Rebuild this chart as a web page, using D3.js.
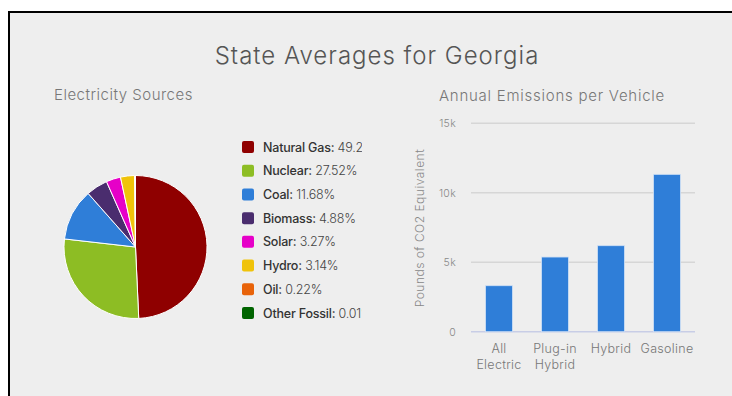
<!DOCTYPE html>
<html>
<head>
<meta charset="utf-8">
<script src="https://cdn.jsdelivr.net/npm/d3@7"></script>
<style>
body { margin:0; background:#fff; }
svg { display:block; font-family: Inter, "Open Sans", sans-serif; }
</style>
</head>
<body>
<div id="chart"></div>
<script>
// electricity mix (percent)
var sources = ["Natural Gas","Nuclear","Coal","Biomass","Solar","Hydro","Oil","Other Fossil"];
var shares = [49.28, 27.52, 11.68, 4.88, 3.27, 3.14, 0.22, 0.01];
var sourceColors = ["#8f0000","#8dbd24","#2f7ed8","#4a2d6e","#e600c8","#f0c30a","#e8630a","#006400"];

// annual emissions (lbs CO2e)
var vehicles = [["All","Electric"],["Plug-in","Hybrid"],["Hybrid"],["Gasoline"]];
var emissions = [3310, 5375, 6190, 11325];
var yTicks = [0, 5000, 10000, 15000];

var width = 732, height = 396;

var svg = d3.select("#chart").append("svg")
	.attr("width", width)
	.attr("height", height);

svg.append("rect")
	.attr("x", 9).attr("y", 12)
	.attr("width", width).attr("height", height)
	.attr("fill", "#eeeeee")
	.attr("stroke", "#000")
	.attr("stroke-width", 2);

svg.append("text")
	.attr("x", 377).attr("y", 64)
	.attr("text-anchor", "middle")
	.attr("font-size", 24)
	.attr("font-weight", 300)
	.attr("letter-spacing", 1)
	.attr("fill", "#555")
	.text("State Averages for Georgia");

svg.append("text")
	.attr("x", 54).attr("y", 100)
	.attr("font-size", 15)
	.attr("font-weight", 300)
	.attr("letter-spacing", 0.5)
	.attr("fill", "#777")
	.text("Electricity Sources");

svg.append("text")
	.attr("x", 439).attr("y", 101)
	.attr("font-size", 15)
	.attr("font-weight", 300)
	.attr("letter-spacing", 0.75)
	.attr("fill", "#777")
	.text("Annual Emissions per Vehicle");

// ---- pie ----
var pieData = sources.map((s, i) => ({name: s, value: shares[i], color: sourceColors[i]}));
var pie = d3.pie().value(d => d.value).sort(null);
var arc = d3.arc().innerRadius(0).outerRadius(71.5);

var gPie = svg.append("g").attr("transform", "translate(135.5,247)");
gPie.selectAll("path").data(pie(pieData))
	.enter().append("path")
	.attr("d", arc)
	.attr("fill", d => d.data.color)
	.attr("stroke", "#fff")
	.attr("stroke-width", 1);

// legend
svg.append("clipPath").attr("id", "legclip")
	.append("rect").attr("x", 230).attr("y", 120).attr("width", 132).attr("height", 220);

var legend = svg.append("g").attr("clip-path", "url(#legclip)");
var legY = d3.scalePoint().domain(sources).range([147, 313]);

var rows = legend.selectAll("g").data(pieData)
	.enter().append("g")
	.attr("transform", d => "translate(242," + legY(d.name) + ")");

rows.append("rect")
	.attr("x", 0).attr("y", -6)
	.attr("width", 12).attr("height", 12)
	.attr("rx", 2)
	.attr("fill", d => d.color);

var lt = rows.append("text")
	.attr("x", 21).attr("y", 4.5)
	.attr("font-size", 12.5)
	.attr("letter-spacing", -0.2);
lt.append("tspan").attr("font-weight", 500).attr("fill", "#333").text(d => d.name + ":");
lt.append("tspan").attr("font-weight", 300).attr("fill", "#444").text(d => " " + d.value.toFixed(2) + "%");

// ---- bars ----
var x = d3.scaleBand()
	.domain(vehicles.map(v => v.join(" ")))
	.range([471, 695])
	.paddingInner(0.52)
	.paddingOuter(0.26);

var y = d3.scaleLinear().domain([0, 15000]).range([331.7, 123.3]);

var gBar = svg.append("g");

gBar.selectAll("line.grid").data(yTicks)
	.enter().append("line")
	.attr("x1", 471).attr("x2", 695)
	.attr("y1", d => y(d)).attr("y2", d => y(d))
	.attr("stroke", d => d === 0 ? "#c8cde6" : "#d6d6d6")
	.attr("stroke-width", 1.5);

var yaxis = d3.axisLeft(y).tickValues(yTicks)
	.tickFormat(d => d === 0 ? "0" : (d / 1000) + "k")
	.tickSize(0).tickPadding(0);

var ya = gBar.append("g").attr("transform", "translate(456,0)").call(yaxis);
ya.select(".domain").remove();
ya.selectAll("text")
	.attr("font-family", "Inter, sans-serif")
	.attr("font-size", 10.5)
	.attr("font-weight", 300)
	.attr("letter-spacing", 0.3)
	.attr("fill", "#888");

gBar.selectAll("rect.bar").data(emissions)
	.enter().append("rect")
	.attr("class", "bar")
	.attr("x", (d, i) => x(vehicles[i].join(" ")))
	.attr("y", d => y(d))
	.attr("width", x.bandwidth())
	.attr("height", d => y(0) - y(d))
	.attr("fill", "#2f7ed8")
	.attr("stroke", "#cfe0f5")
	.attr("stroke-width", 0.8);

var xl = gBar.selectAll("text.xl").data(vehicles)
	.enter().append("text")
	.attr("class", "xl")
	.attr("text-anchor", "middle")
	.attr("font-size", 12.5)
	.attr("font-weight", 300)
	.attr("letter-spacing", 0.3)
	.attr("fill", "#777")
	.attr("transform", d => "translate(" + (x(d.join(" ")) + x.bandwidth() / 2) + ",353)");
xl.selectAll("tspan").data(d => d)
	.enter().append("tspan")
	.attr("x", 0)
	.attr("dy", (d, i) => i === 0 ? 0 : 15.5)
	.text(d => d);

svg.append("text")
	.attr("transform", "translate(424,228) rotate(-90)")
	.attr("text-anchor", "middle")
	.attr("font-size", 12)
	.attr("font-weight", 300)
	.attr("letter-spacing", 0.5)
	.attr("fill", "#888")
	.text("Pounds of CO2 Equivalent");
</script>
</body>
</html>
